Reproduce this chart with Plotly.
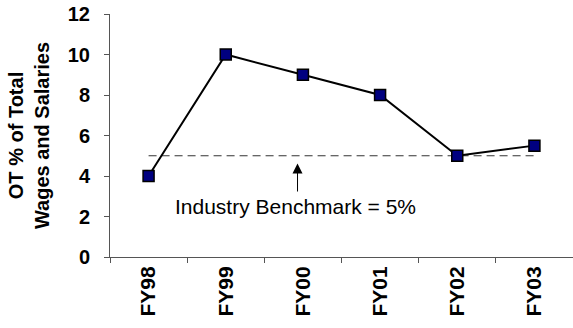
import plotly.graph_objects as go

categories = ["FY98", "FY99", "FY00", "FY01", "FY02", "FY03"]
ot_pct = [4, 10, 9, 8, 5, 5.5]
benchmark = [5, 5, 5, 5, 5, 5]
y_ticks = [0, 2, 4, 6, 8, 10, 12]

FONT = "Liberation Sans, Arial, sans-serif"

fig = go.Figure()
fig.add_trace(go.Scatter(
    x=categories, y=benchmark, mode="lines",
    line=dict(color="#333", width=1, dash="8px,5px"),
    hoverinfo="skip", showlegend=False))
fig.add_trace(go.Scatter(
    x=categories, y=ot_pct, mode="lines+markers",
    line=dict(color="black", width=2),
    marker=dict(symbol="square", size=11, color="#000080",
                line=dict(color="black", width=1.5)),
    showlegend=False))

# arrow (points up to the benchmark line)
fig.add_annotation(x=1.93, y=4.62, ax=1.93, ay=3.16, xref="x", yref="y",
                   axref="x", ayref="y", text="", showarrow=True,
                   arrowhead=2, arrowsize=2, arrowwidth=1, arrowcolor="black")
fig.add_annotation(x=1.9, y=2.48, xref="x", yref="y", text="Industry Benchmark = 5%",
                   showarrow=False, font=dict(family=FONT, size=21, color="black"))

fig.update_layout(
    width=573, height=328,
    margin=dict(l=110, r=0, t=14, b=71),
    paper_bgcolor="white", plot_bgcolor="white",
    font=dict(family=FONT, color="black"),
    xaxis=dict(type="category", range=[-0.5, 5.5], showline=True, linecolor="#555",
               linewidth=1, ticks="outside", ticklen=5, tickcolor="#555",
               tickson="boundaries", tickangle=-90, showgrid=False,
               ticklabelstandoff=0,
               tickfont=dict(family=FONT, size=21, color="black", weight="bold")),
    yaxis=dict(range=[0, 12], tickvals=y_ticks, showline=True, linecolor="#555",
               linewidth=1, ticks="outside", ticklen=5, tickcolor="#555",
               showgrid=False, zeroline=False, ticklabelstandoff=10,
               tickfont=dict(family=FONT, size=20, color="black", weight="bold"),
               title=dict(text="OT % of Total<br>Wages and Salaries", standoff=12,
                          font=dict(family=FONT, size=20, color="black", weight="bold"))),
)
fig.write_html("out.html")
